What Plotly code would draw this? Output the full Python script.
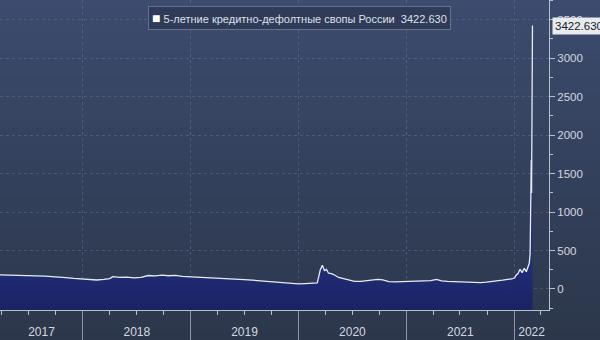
import plotly.graph_objects as go
import pandas as pd

SERIES_NAME = "5-летние кредитно-дефолтные свопы России"

DATES = [
    "2017-03-26", "2017-04-20", "2017-05-18", "2017-06-14", "2017-07-04", "2017-07-31",
    "2017-08-25", "2017-09-17", "2017-10-08", "2017-11-04", "2017-12-01",
    "2018-01-01", "2018-01-24", "2018-02-17", "2018-03-13", "2018-04-02", "2018-04-12",
    "2018-05-06", "2018-05-30", "2018-06-23", "2018-07-17", "2018-08-10", "2018-09-03",
    "2018-09-26", "2018-10-17", "2018-11-10", "2018-12-03",
    "2019-01-02", "2019-01-26", "2019-02-19", "2019-03-14", "2019-04-10", "2019-05-08",
    "2019-06-04", "2019-07-01", "2019-07-28", "2019-08-25", "2019-09-21", "2019-10-18",
    "2019-11-14", "2019-12-11",
    "2020-01-01", "2020-01-24", "2020-02-17", "2020-03-05", "2020-03-15", "2020-03-22",
    "2020-03-29", "2020-04-05", "2020-04-12", "2020-04-22", "2020-05-02", "2020-05-16",
    "2020-06-02", "2020-06-19", "2020-07-09", "2020-07-30", "2020-08-19", "2020-09-09",
    "2020-09-26", "2020-10-13", "2020-11-02", "2020-11-23", "2020-12-13",
    "2021-01-01", "2021-01-21", "2021-02-11", "2021-03-03", "2021-03-24", "2021-04-13",
    "2021-04-30", "2021-05-20", "2021-06-10", "2021-07-03", "2021-07-27", "2021-08-20",
    "2021-09-09", "2021-09-29", "2021-10-20", "2021-11-06", "2021-11-23", "2021-12-10",
    "2021-12-24",
    "2022-01-03", "2022-01-07", "2022-01-14", "2022-01-21", "2022-01-28", "2022-02-04",
    "2022-02-11", "2022-02-17", "2022-02-21", "2022-02-24", "2022-02-28", "2022-03-01",
    "2022-03-04",
]

VALUES = [
    182, 180, 176, 178, 180, 172, 166, 160, 158, 148, 138,
    130, 122, 117, 125, 135, 160, 150, 155, 145, 150, 175, 170, 180, 172, 178, 165,
    160, 156, 150, 146, 140, 136, 132, 122, 115, 105, 97, 88, 78, 68,
    66, 70, 72, 80, 247, 308, 240, 255, 205, 200, 182, 150, 135, 117, 98, 100, 106,
    115, 126, 118, 95, 92, 95,
    100, 96, 98, 103, 108, 125, 105, 100, 95, 91, 90, 87, 82, 88, 95, 104, 115, 125, 130,
    145, 175, 200, 256, 212, 269, 225, 282, 330, 450, 1676, 1247, 3422.630,
]

Y_TICKS = [0, 500, 1000, 1500, 2000, 2500, 3000, 3500]
YEAR_LABELS = ["2017", "2018", "2019", "2020", "2021", "2022"]
X_RANGE = ["2017-03-26", "2022-04-29"]
Y_RANGE = [-273, 3754]

FONT = "Liberation Sans, Arial, sans-serif"
AXIS_COL = "#b9c0cc"
TEXT_COL = "#d4d8e0"
GRID_COL = "rgba(125,140,170,0.33)"

# year boundaries and centred label positions (within the visible range)
r0, r1 = pd.Timestamp(X_RANGE[0]), pd.Timestamp(X_RANGE[1])
year_starts = [pd.Timestamp(f"{y}-01-01") for y in YEAR_LABELS]
boundaries = [d for d in year_starts if r0 < d < r1]
label_pos = []
for y in YEAR_LABELS:
    s = max(r0, pd.Timestamp(f"{y}-01-01"))
    e = min(r1, pd.Timestamp(f"{int(y) + 1}-01-01"))
    label_pos.append(s + (e - s) / 2)

fig = go.Figure()

# baseline at the bottom of the plot for the area fill
fig.add_trace(go.Scatter(
    x=DATES, y=[Y_RANGE[0]] * len(DATES), mode="lines",
    line=dict(width=0), showlegend=False, hoverinfo="skip",
))
fig.add_trace(go.Scatter(
    x=DATES, y=VALUES, mode="lines", name=SERIES_NAME,
    line=dict(color="#e8ecf4", width=1.3),
    fill="tonexty",
    fillgradient=dict(type="vertical", start=Y_RANGE[0], stop=450,
                      colorscale=[[0, "#1b2264"], [1, "#22307c"]]),
    showlegend=False,
))
# carrier trace for the year-label axis
fig.add_trace(go.Scatter(x=[], y=[], xaxis="x2", showlegend=False, hoverinfo="skip"))

# background vertical gradient
shapes = []
N = 40
top = (0x3c, 0x4b, 0x6e)
bot = (0x2c, 0x37, 0x4b)
yb, yt = -30 / 310, 1.0
for i in range(N):
    t = (i + 0.5) / N
    c = tuple(int(round(bot[k] + (top[k] - bot[k]) * t)) for k in range(3))
    shapes.append(dict(
        type="rect", xref="paper", yref="paper",
        x0=-0.01, x1=1.2, y0=yb + (yt - yb) * i / N, y1=yb + (yt - yb) * (i + 1) / N + 0.002,
        fillcolor="rgb(%d,%d,%d)" % c, line=dict(width=0), layer="below",
    ))

fig.update_layout(
    width=600, height=340,
    margin=dict(l=0, r=51, t=0, b=30),
    paper_bgcolor="#323e57", plot_bgcolor="rgba(0,0,0,0)",
    font=dict(family=FONT, color=TEXT_COL, size=11),
    shapes=shapes,
    xaxis=dict(
        type="date", range=X_RANGE,
        tickmode="array", tickvals=boundaries, showticklabels=False,
        ticks="outside", ticklen=30, tickcolor="#8d96a6", tickwidth=1,
        showgrid=True, gridcolor=GRID_COL, griddash="dot", gridwidth=1,
        showline=True, linecolor=AXIS_COL, linewidth=1, zeroline=False,
        minor=dict(dtick="M3", tick0="2017-01-01", ticks="outside", ticklen=4,
                   tickcolor=AXIS_COL, showgrid=False),
    ),
    xaxis2=dict(
        type="date", range=X_RANGE, overlaying="x", anchor="y", side="bottom",
        tickmode="array", tickvals=label_pos, ticktext=YEAR_LABELS,
        ticks="", showgrid=False, showline=False, zeroline=False,
        tickfont=dict(size=12, color=TEXT_COL, family=FONT),
        ticklabelstandoff=13,
    ),
    yaxis=dict(
        range=Y_RANGE, side="right",
        tickmode="array", tickvals=Y_TICKS,
        ticks="outside", ticklen=5, tickcolor=AXIS_COL,
        showline=True, linecolor=AXIS_COL, linewidth=1,
        showgrid=True, gridcolor=GRID_COL, griddash="dot", zeroline=False,
        tickfont=dict(size=11.5, color=TEXT_COL, family=FONT),
        minor=dict(dtick=250, ticks="outside", ticklen=3, tickcolor=AXIS_COL, showgrid=False),
    ),
    annotations=[
        dict(
            xref="paper", yref="paper", x=148 / 549, y=1 - 6 / 310,
            xanchor="left", yanchor="top", showarrow=False,
            text="<span style='color:#ffffff;font-size:14px'>■</span> %s  %.3f" % (SERIES_NAME, VALUES[-1]),
            font=dict(size=11, color="#dde1e8", family=FONT),
            bgcolor="#2f3b59", bordercolor="#66728d", borderwidth=1, borderpad=3,
        ),
        dict(
            xref="paper", yref="y", x=1, y=VALUES[-1], xshift=3,
            xanchor="left", yanchor="middle", showarrow=False,
            text="%.3f" % VALUES[-1],
            font=dict(size=11.5, color="#151a24", family=FONT),
            bgcolor="#e8eaee", borderpad=2,
        ),
    ],
)

fig.write_html("out.html")
